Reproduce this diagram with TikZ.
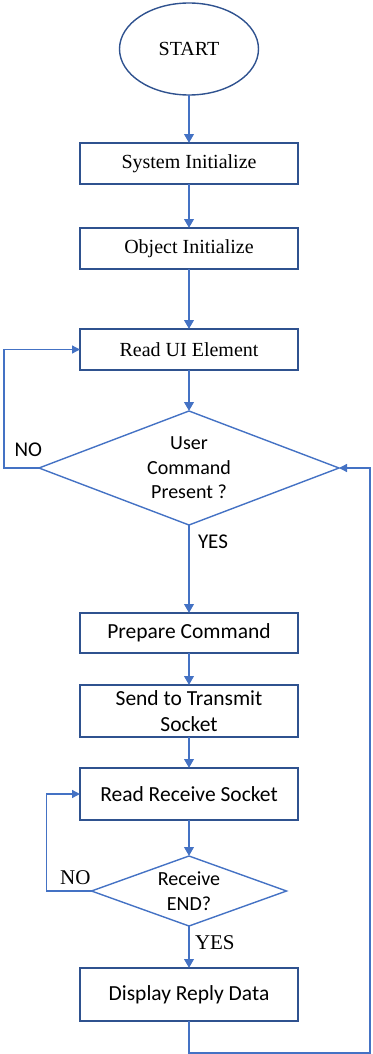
\documentclass[tikz,border=0pt]{standalone}
\usepackage{fontspec}
\setmainfont{Liberation Serif}
\newfontfamily\califont{Carlito}
\usepackage{tikz}
\usetikzlibrary{shapes.geometric, arrows.meta, positioning}
\definecolor{flowblue}{HTML}{4472C4}
\definecolor{flowedge}{HTML}{2F528F}
\tikzset{
  %% Process box
  procbox/.style={
    rectangle, draw=flowedge, line width=1.6pt,
    minimum width=218pt, minimum height=#1,
    inner sep=0pt, align=center, text=black
  },
  procbox/.default=41pt,
  %% Start terminal
  termin/.style={
    ellipse, draw=flowedge, line width=1.4pt,
    minimum width=139pt, minimum height=92pt,
    inner sep=0pt, font=\fontsize{20}{24}\selectfont
  },
  %% Decision diamond
  decision/.style={
    diamond, draw=flowblue, line width=1.4pt,
    inner sep=0pt, align=center, text=black, aspect=#1,
    font=\califont\fontsize{20}{24.5}\selectfont
  },
  decision/.default=2.6,
  %% Text sizes
  serifbox/.style={font=\fontsize{20}{24}\selectfont},
  sansbox/.style={font=\califont\fontsize{21.5}{26}\selectfont},
  %% Branch labels
  lbl/.style={inner sep=0pt, font=\califont\fontsize{21}{24}\selectfont},
  seriflbl/.style={inner sep=0pt, font=\fontsize{21}{24}\selectfont},
  %% Arrows
  arr/.style={-{Triangle[length=9pt,width=9.5pt]},
              draw=flowblue, line width=2.6pt},
  backarr/.style={-{Triangle[length=8pt,width=8pt]},
                  draw=flowblue, line width=1.3pt},
}
\begin{document}
\begin{tikzpicture}[x=1pt, y=1pt, every node/.append style={outer sep=0pt}]

  \useasboundingbox (0,0) rectangle (372,-1054);

  %% Main column
  \node[termin] (start) at (189,-49) {START};
  \node[procbox, serifbox, below=48pt of start] (sysinit) {System Initialize};
  \node[procbox, serifbox, below=44pt of sysinit] (objinit) {Object Initialize};
  \node[procbox, serifbox, below=60pt of objinit] (readui) {Read UI Element};
  \node[decision=2.63, minimum width=300pt, minimum height=114pt,
        below=41pt of readui] (usercmd) {User\\Command\\Present ?};
  \node[procbox=40pt, sansbox, below=88pt of usercmd] (prepcmd) {Prepare Command};
  \node[procbox=52pt, sansbox, below=32pt of prepcmd] (sendtx)
       {Send to Transmit\\Socket};
  \node[procbox=52pt, sansbox, below=31pt of sendtx] (readrx) {Read Receive Socket};
  \node[decision=2.79, minimum width=195pt, minimum height=70pt,
        below=36pt of readrx] (rxend) {Receive\\END?};
  \node[procbox=53pt, sansbox, below=42pt of rxend] (disp) {Display Reply Data};

  %% Branch labels
  \node[lbl, above left=11.5pt and -3pt of usercmd.west] (no1) {NO};
  \node[lbl, below right=9.5pt and 9pt of usercmd.south] (yes1) {YES};
  \node[seriflbl, above left=6pt and 1pt of rxend.west] (no2) {NO};
  \node[seriflbl, below right=10pt and 6pt of rxend.south] (yes2) {YES};

  %% Arrows
  \draw[arr] (start)   -- (sysinit);
  \draw[arr] (sysinit) -- (objinit);
  \draw[arr] (objinit) -- (readui);
  \draw[arr] (readui)  -- (usercmd);
  \draw[arr] (usercmd) -- (prepcmd);
  \draw[arr] (prepcmd) -- (sendtx);
  \draw[arr] (sendtx)  -- (readrx);
  \draw[arr] (readrx)  -- (rxend);
  \draw[arr] (rxend)   -- (disp);

  %% Loops back
  \draw[backarr] (usercmd.west) -- ++(-35,0) |- (readui.west);
  \draw[backarr] (rxend.west) -- ++(-45,0) |- (readrx.west);
  \draw[backarr] (disp.south) -- ++(0,-32) -| ([xshift=31pt]usercmd.east)
                 -- (usercmd.east);

\end{tikzpicture}
\end{document}
